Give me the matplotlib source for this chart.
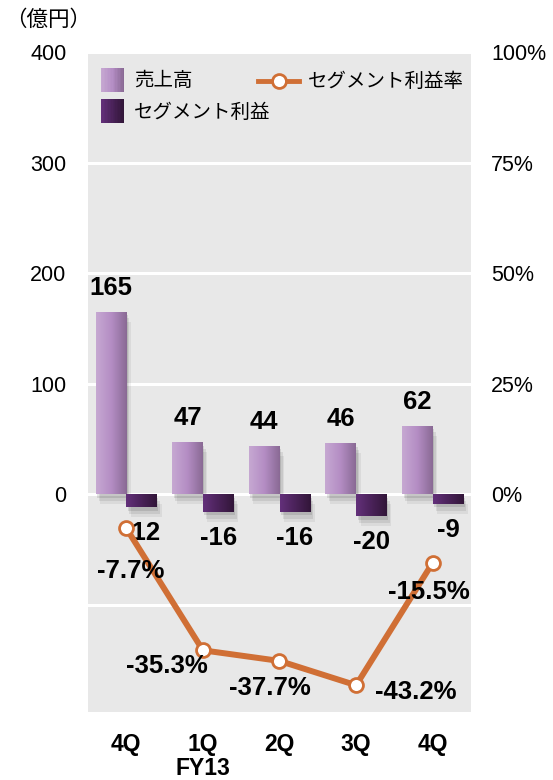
import numpy as np
import matplotlib
matplotlib.use("Agg")
import matplotlib.pyplot as plt
from matplotlib.colors import LinearSegmentedColormap
from matplotlib.patches import Rectangle
from matplotlib.lines import Line2D

plt.rcParams['font.family'] = ['Liberation Sans', 'Noto Sans CJK JP', 'DejaVu Sans']

quarters = ["4Q", "1Q\nFY13", "2Q", "3Q", "4Q"]
sales = [165, 47, 44, 46, 62]
profit = [-12, -16, -16, -20, -9]
margin = [-7.7, -35.3, -37.7, -43.2, -15.5]
left_ticks = [0, 100, 200, 300, 400]
right_ticks = ["0%", "25%", "50%", "75%", "100%"]

# label offsets (pixels) for the margin annotations
margin_offsets = [(4, -43), (-36, -16), (-10, -27), (60, -7), (-4, -29)]

sales_cmap = LinearSegmentedColormap.from_list("s", ["#c6a8d2", "#b48dc4", "#8a6a95"])
profit_cmap = LinearSegmentedColormap.from_list("p", ["#63307a", "#4a2259", "#321639"])
line_color = "#d06f35"
bg = "#e8e8e8"

W, H = 553, 780
fig = plt.figure(figsize=(W / 100, H / 100), dpi=100)
ax = fig.add_axes([88 / W, 1 - 712 / H, (471 - 88) / W, (712 - 52) / H])
ax.set_facecolor(bg)
ax.set_xlim(-0.5, 4.5)
ax.set_ylim(-197, 400)
for s in ax.spines.values():
    s.set_visible(False)

ax.set_yticks(left_ticks)
ax.set_yticklabels([str(t) for t in left_ticks], fontsize=15.5)
ax.tick_params(axis='y', length=0, pad=15.5)
ax.yaxis.grid(True, color="white", linewidth=2.2)
ax.set_axisbelow(True)
ax.axhline(-100, color="white", linewidth=2.2, zorder=0.5)

x = np.arange(len(quarters))
ax.set_xticks(x)
ax.set_xticklabels(quarters, fontsize=16.5, fontweight="bold", linespacing=1.05)
ax.tick_params(axis='x', length=0, pad=15)

bw = 0.4
grad = np.linspace(0, 1, 64).reshape(1, -1)


def gradient_bars(xs, vals, cmap, z):
    # soft drop shadow
    for k, a in enumerate([0.10, 0.08, 0.06]):
        d = 0.02 * (k + 1)
        ax.bar(xs + d, vals, bw, bottom=-3 * (k + 1),
               color="black", alpha=a, zorder=z - 0.5, linewidth=0, align='edge')
    bars = ax.bar(xs, vals, bw, color=cmap(0.5), zorder=z, linewidth=0, align='edge')
    for b in bars:
        x0, y0 = b.get_x(), b.get_y()
        w, h = b.get_width(), b.get_height()
        im = ax.imshow(grad, cmap=cmap, aspect='auto', extent=(x0, x0 + w, y0, y0 + h),
                       zorder=z + 0.1, interpolation='bilinear')
        im.set_clip_path(b)
    return bars


gradient_bars(x - bw, sales, sales_cmap, 2)
gradient_bars(x, profit, profit_cmap, 2)
ax.set_xlim(-0.5, 4.5)
ax.set_ylim(-197, 400)

# right axis for margin percentage
ax2 = ax.twinx()
ax2.set_ylim(-197 / 4, 100)
ax2.set_yticks([0, 25, 50, 75, 100])
ax2.set_yticklabels(right_ticks, fontsize=15.5)
ax2.tick_params(axis='y', length=0, pad=14.5)
for s in ax2.spines.values():
    s.set_visible(False)
ax2.plot(x, margin, color=line_color, linewidth=4.3, marker='o', markersize=10,
         markerfacecolor="white", markeredgecolor=line_color, markeredgewidth=2, zorder=5)

lbl = dict(fontsize=18.5, fontweight="bold", ha="center", va="center", color="black")
for xi, v in zip(x, sales):
    ax.annotate(str(v), (xi - bw / 2, v), xytext=(0, 24), textcoords="offset pixels", **lbl)
for xi, v in zip(x, profit):
    ax.annotate(str(v), (xi + bw / 2, v), xytext=(0, -26), textcoords="offset pixels", **lbl)
for xi, v, off in zip(x, margin, margin_offsets):
    ax2.annotate(f"{v}%", (xi, v), xytext=off, textcoords="offset pixels", zorder=6, **lbl)

cjk = ['Noto Sans CJK JP', 'DejaVu Sans']

# unit label
fig.text(48 / W, 1 - 20 / H, "（億円）", fontsize=15.5, ha="center", va="center", family=cjk)


# legend
def fx(px):
    return px / W


def fy(py):
    return 1 - py / H


def grad_patch(x0, y0, x1, y1, cmap):
    n = 16
    for i in range(n):
        fig.patches.append(Rectangle((fx(x0 + (x1 - x0) * i / n), fy(y1)),
                                     (x1 - x0) / n / W + 0.0005, (y1 - y0) / H,
                                     transform=fig.transFigure, facecolor=cmap(i / (n - 1)),
                                     edgecolor="none", zorder=10))


grad_patch(101, 68, 124, 92, sales_cmap)
fig.text(fx(134), fy(81), "売上高", fontsize=14, va="center", ha="left", family=cjk)
grad_patch(101, 99, 124, 123, profit_cmap)
fig.text(fx(134), fy(112), "セグメント利益", fontsize=14, va="center", ha="left", family=cjk)
fig.lines.append(Line2D([fx(258), fx(299)], [fy(81), fy(81)], transform=fig.transFigure,
                        color=line_color, linewidth=3.5, zorder=10))
fig.lines.append(Line2D([fx(279)], [fy(81)], transform=fig.transFigure, color=line_color,
                        marker='o', markersize=10, markerfacecolor="white",
                        markeredgewidth=2, markeredgecolor=line_color, zorder=11))
fig.text(fx(308), fy(81), "セグメント利益率", fontsize=14, va="center", ha="left", family=cjk)

fig.savefig("out.png", dpi=100)
